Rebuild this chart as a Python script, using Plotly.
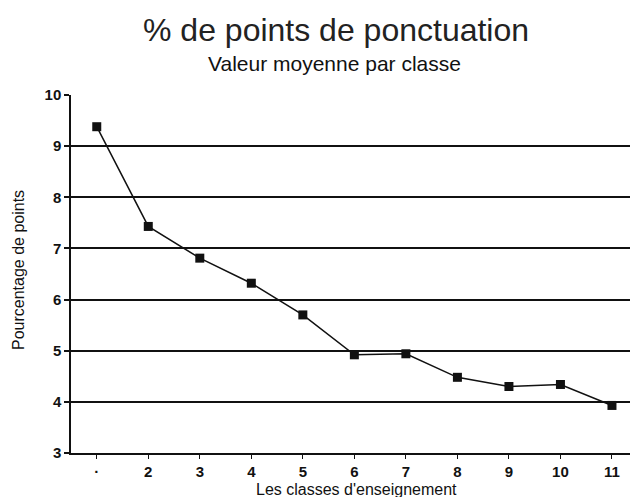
"""
% de points de ponctuation : valeur moyenne par classe
"""

import plotly.graph_objects as go

# Données
classes = [1, 2, 3, 4, 5, 6, 7, 8, 9, 10, 11]
tick_labels = ["·", "2", "3", "4", "5", "6", "7", "8", "9", "10", "11"]
pourcentages = [9.38, 7.43, 6.81, 6.32, 5.70, 4.92, 4.94, 4.48, 4.30, 4.34, 3.93]
y_ticks = [3, 4, 5, 6, 7, 8, 9, 10]

W, H = 631, 497
L, R, T, B = 71, 1, 95, 44
plot_w = W - L - R
plot_h = H - T - B


def px_x(x):
    return (x - L) / plot_w


def px_y(y):
    return (H - B - y) / plot_h


fig = go.Figure()

fig.add_trace(go.Scatter(
    x=classes,
    y=pourcentages,
    mode="lines+markers",
    line=dict(color="#111111", width=1.5),
    marker=dict(symbol="square", size=9, color="#111111"),
    showlegend=False,
))

fig.update_layout(
    width=W,
    height=H,
    margin=dict(l=L, r=R, t=T, b=B),
    paper_bgcolor="white",
    plot_bgcolor="white",
    font=dict(family="Liberation Sans, Arial, sans-serif", color="#111111"),
    annotations=[
        dict(text="% de points de ponctuation", x=px_x(336), y=px_y(30),
             xref="paper", yref="paper", yanchor="middle",
             showarrow=False, font=dict(size=32, color="#222222")),
        dict(text="Valeur moyenne par classe", x=px_x(334), y=px_y(63),
             xref="paper", yref="paper", yanchor="middle",
             showarrow=False, font=dict(size=21)),
        dict(text="Les classes d'enseignement", x=px_x(356), y=px_y(489),
             xref="paper", yref="paper", yanchor="middle",
             showarrow=False, font=dict(size=16)),
        dict(text="Pourcentage de points", x=px_x(18), y=px_y(270),
             xref="paper", yref="paper", yanchor="middle", xanchor="center",
             textangle=-90, showarrow=False, font=dict(size=16)),
    ],
)

fig.update_xaxes(
    range=[0.5, 11.35],
    tickmode="array",
    tickvals=classes,
    ticktext=tick_labels,
    ticks="outside",
    ticklen=4,
    tickwidth=1,
    tickcolor="#111111",
    showline=True,
    linecolor="#111111",
    linewidth=1.5,
    showgrid=False,
    zeroline=False,
    automargin=False,
    tickfont=dict(size=15, family="Liberation Sans, Arial, sans-serif", weight="bold"),
)

fig.update_yaxes(
    range=[3, 10],
    tickmode="array",
    tickvals=y_ticks,
    ticks="outside",
    ticklen=5,
    tickwidth=1.5,
    tickcolor="#111111",
    showline=True,
    linecolor="#111111",
    linewidth=1.5,
    showgrid=True,
    gridcolor="#111111",
    gridwidth=1.5,
    zeroline=False,
    automargin=False,
    tickfont=dict(size=15, family="Liberation Sans, Arial, sans-serif", weight="bold"),
)

# supprimer la marge par défaut du <body> pour que le graphique colle au bord
fig.write_html(
    "out.html",
    config={"displayModeBar": False},
    post_script="document.body.style.margin='0px';",
)
